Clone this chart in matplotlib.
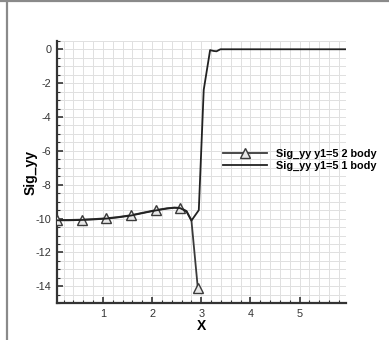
import matplotlib
matplotlib.use("Agg")
import matplotlib.pyplot as plt
from matplotlib.lines import Line2D
from matplotlib.ticker import MultipleLocator

plt.rcParams['font.family'] = ['Liberation Sans', 'DejaVu Sans']
plt.rcParams['axes.unicode_minus'] = False

# Sig_yy along y1=5, two-body model (markers every few samples)
x_two = [0.07, 0.3, 0.57, 0.8, 1.07, 1.3, 1.57, 1.8, 2.07, 2.3, 2.45, 2.57, 2.7, 2.8, 2.93]
y_two = [-10.08, -10.08, -10.06, -10.03, -9.98, -9.91, -9.8, -9.66, -9.5, -9.39, -9.35, -9.36, -9.55, -10.1, -14.1]
two_marks = [0, 2, 4, 6, 8, 11, 14]

# Sig_yy along y1=5, single body
x_one = [0.07, 0.3, 0.57, 0.8, 1.07, 1.3, 1.57, 1.8, 2.07, 2.3, 2.45, 2.57, 2.7, 2.8,
         2.95, 3.05, 3.18, 3.25, 3.31, 3.39, 4.0, 5.0, 5.94]
y_one = [-10.1, -10.1, -10.08, -10.05, -10.0, -9.93, -9.82, -9.68, -9.52, -9.41, -9.36, -9.38, -9.58, -10.12,
         -9.5, -2.4, -0.05, -0.1, -0.12, 0.0, 0.0, 0.0, 0.0]

fig = plt.figure(figsize=(3.89, 3.40), dpi=100)
ax = fig.add_axes([0.147, 0.108, 0.742, 0.772])

ax.plot(x_two, y_two, color='#3a3a3a', lw=1.3, marker='^', markevery=two_marks,
        markersize=6.5, markerfacecolor='#e8e8e8', markeredgecolor='#3a3a3a', markeredgewidth=1.0,
        label='Sig_yy y1=5 2 body', zorder=3)
ax.plot(x_one, y_one, color='#222222', lw=1.3, label='Sig_yy y1=5 1 body', zorder=3)

ax.set_xlim(0.07, 5.94)
ax.set_ylim(-15, 0.5)
ax.xaxis.set_major_locator(MultipleLocator(1))
ax.xaxis.set_minor_locator(MultipleLocator(0.2))
ax.yaxis.set_major_locator(MultipleLocator(2))
ax.yaxis.set_minor_locator(MultipleLocator(0.5))

ax.grid(True, which='both', color='#e0e0e0', lw=0.7, linestyle='-')
ax.set_axisbelow(True)

for side in ('top', 'right'):
    ax.spines[side].set_visible(False)
for side in ('left', 'bottom'):
    ax.spines[side].set_linewidth(1.6)
    ax.spines[side].set_color('#333333')

ax.tick_params(which='major', direction='in', length=4, width=1.2, color='#333333',
               labelsize=7.8, labelcolor='#333333', pad=4)
ax.tick_params(which='minor', direction='in', length=2, width=0.8, color='#333333')

ax.set_xlabel('X', fontsize=10, fontweight='bold', labelpad=0)
ax.set_ylabel('Sig_yy', fontsize=10, fontweight='bold', labelpad=-1)

ax.legend(loc='center left', bbox_to_anchor=(0.573, 0.546), frameon=False,
          prop={'weight': 'bold', 'size': 7.8}, handlelength=4.1, handletextpad=0.8,
          labelspacing=0.15, borderpad=0, borderaxespad=0)

# window frame edges
fig.add_artist(Line2D([0, 1], [0.997, 0.997], transform=fig.transFigure, color='#8a8a8a', lw=1.6))
fig.add_artist(Line2D([0.019, 0.019], [0, 1], transform=fig.transFigure, color='#8a8a8a', lw=1.6))

fig.savefig('out.png', dpi=100)
